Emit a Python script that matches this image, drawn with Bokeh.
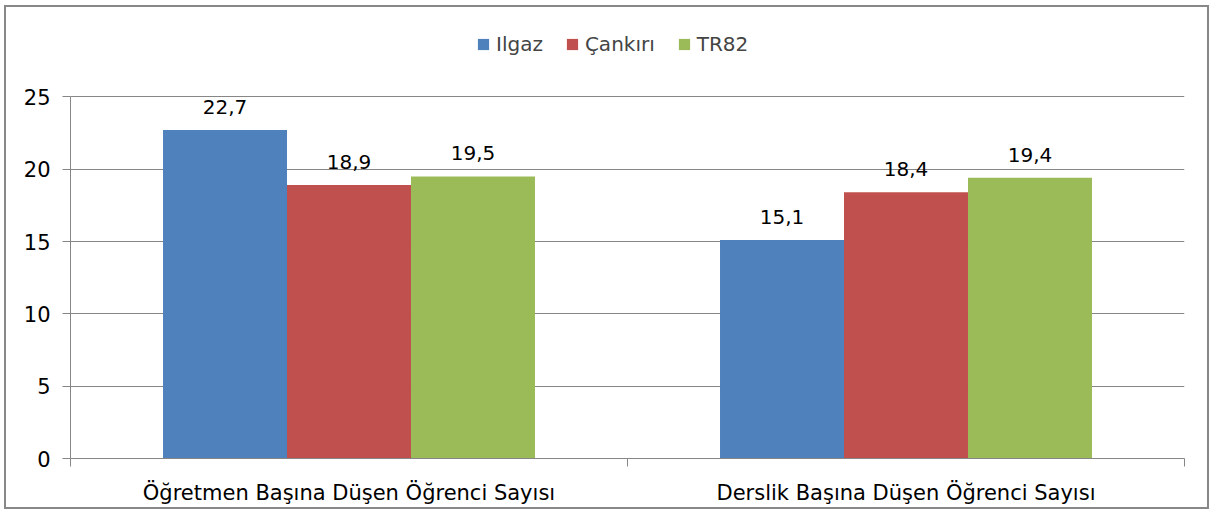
from bokeh.plotting import figure
from bokeh.models import (ColumnDataSource, FixedTicker, Legend, LegendItem,
                          LabelSet, Range1d)
from bokeh.core.properties import value
from bokeh.embed import file_html
from bokeh.resources import INLINE

# ---- data ----
categories = ["Öğretmen Başına Düşen Öğrenci Sayısı", "Derslik Başına Düşen Öğrenci Sayısı"]
series_names = ["Ilgaz", "Çankırı", "TR82"]
ilgaz = [22.7, 15.1]
cankiri = [18.9, 18.4]
tr82 = [19.5, 19.4]
y_ticks = [0, 5, 10, 15, 20, 25]

colors = ["#4F81BD", "#C0504D", "#9BBB59"]
FONT = "DejaVu Sans"
GRID = "#868686"

# frame extends above the 25 line to give room for the legend inside it
p = figure(width=1205, height=504,
           x_range=Range1d(0, len(categories)), y_range=Range1d(0, 30),
           output_backend="svg", toolbar_location=None,
           min_border_left=64, min_border_right=27,
           min_border_top=17, min_border_bottom=53)
p.styles = {"border": "2px solid #888888", "margin-left": "4px", "margin-top": "5px"}
p.outline_line_color = None
p.background_fill_color = "white"
p.border_fill_color = "white"

bar_w = 0.2226
offsets = [-bar_w, 0.0, bar_w]
items = []
for name, vals, col, off in zip(series_names, [ilgaz, cankiri, tr82], colors, offsets):
    src = ColumnDataSource(dict(
        x=[i + 0.5 + off for i in range(len(categories))],
        top=vals,
        label=[f"{v:.1f}".replace(".", ",") for v in vals],
    ))
    r = p.vbar(x="x", top="top", width=bar_w, bottom=0, source=src,
               fill_color=col, line_color=None)
    items.append(LegendItem(label=name, renderers=[r]))
    p.add_layout(LabelSet(x="x", y="top", text="label", source=src,
                          text_align="center", text_baseline="alphabetic",
                          y_offset=16, text_font=value(FONT),
                          text_font_size=value("20px"), text_color="black"))

# y axis
p.yaxis.ticker = FixedTicker(ticks=y_ticks)
p.yaxis.bounds = (y_ticks[0], y_ticks[-1])
p.yaxis.major_tick_out = 8
p.yaxis.major_tick_in = 0
p.yaxis.minor_tick_line_color = None
p.yaxis.major_label_standoff = 12
p.yaxis.axis_line_color = GRID
p.yaxis.major_tick_line_color = GRID
p.yaxis.major_label_text_font = FONT
p.yaxis.major_label_text_font_size = "21px"
p.yaxis.major_label_text_color = "black"

# x axis: labels at centres, tick marks at category boundaries
p.xaxis.ticker = FixedTicker(ticks=[i + 0.5 for i in range(len(categories))],
                             minor_ticks=list(range(len(categories) + 1)))
p.xaxis.major_label_overrides = {i + 0.5: c for i, c in enumerate(categories)}
p.xaxis.major_tick_line_color = None
p.xaxis.minor_tick_line_color = GRID
p.xaxis.minor_tick_out = 8
p.xaxis.minor_tick_in = 0
p.xaxis.axis_line_color = GRID
p.xaxis.major_label_standoff = 14
p.xaxis.major_label_text_font = FONT
p.xaxis.major_label_text_font_size = "21px"
p.xaxis.major_label_text_color = "black"

p.xgrid.grid_line_color = None
p.ygrid.ticker = FixedTicker(ticks=y_ticks)
p.ygrid.grid_line_color = GRID

legend = Legend(items=items, orientation="horizontal", location=(406, 402),
                glyph_width=14, glyph_height=14, label_standoff=6, spacing=22,
                padding=0, margin=0, border_line_color=None,
                background_fill_alpha=0,
                label_text_font=FONT, label_text_font_size="20px")
p.add_layout(legend, "center")

open("out.html", "w").write(file_html(p, INLINE))
